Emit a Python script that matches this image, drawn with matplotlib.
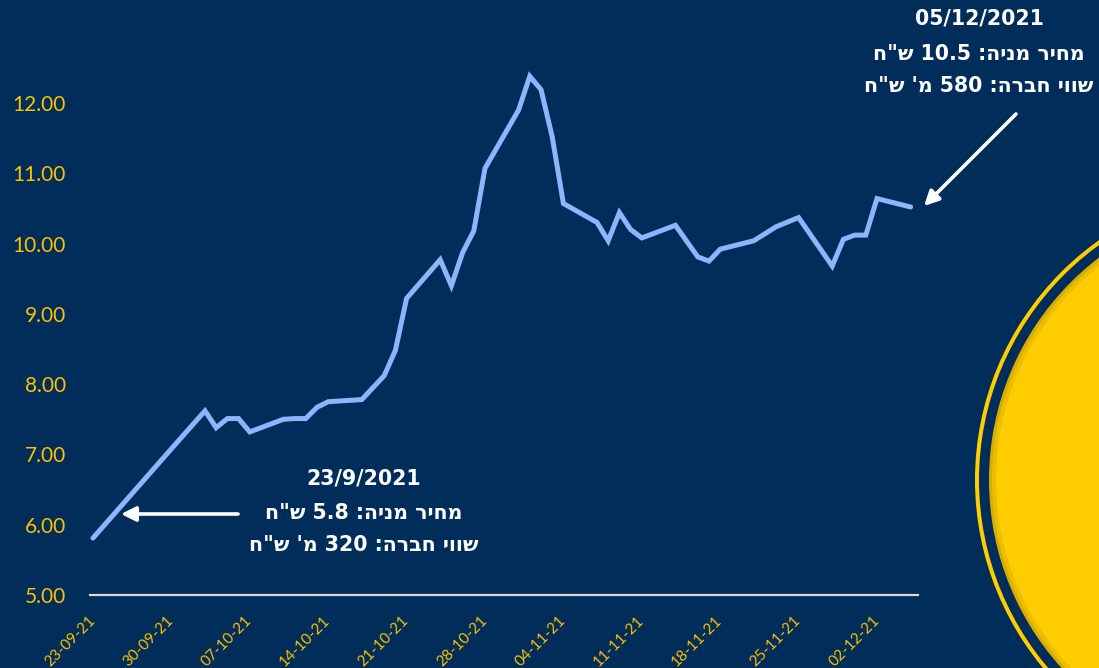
import matplotlib
matplotlib.use('Agg')
import matplotlib.pyplot as plt
import matplotlib.dates as mdates
from matplotlib.patches import Circle
import pandas as pd

# ---------------- data ----------------
dates = ['2021-09-23', '2021-09-30', '2021-10-03', '2021-10-04', '2021-10-05',
         '2021-10-06', '2021-10-07', '2021-10-10', '2021-10-11', '2021-10-12',
         '2021-10-13', '2021-10-14', '2021-10-17', '2021-10-18', '2021-10-19',
         '2021-10-20', '2021-10-21', '2021-10-24', '2021-10-25', '2021-10-26',
         '2021-10-27', '2021-10-28', '2021-10-31', '2021-11-01', '2021-11-02',
         '2021-11-03', '2021-11-04', '2021-11-07', '2021-11-08', '2021-11-09',
         '2021-11-10', '2021-11-11', '2021-11-14', '2021-11-16', '2021-11-17',
         '2021-11-18', '2021-11-21', '2021-11-23', '2021-11-25', '2021-11-28',
         '2021-11-29', '2021-11-30', '2021-12-01', '2021-12-02', '2021-12-05']
prices = [5.81, 7.08, 7.62, 7.38, 7.51,
          7.51, 7.32, 7.50, 7.51, 7.51,
          7.67, 7.75, 7.78, 7.95, 8.12,
          8.48, 9.22, 9.77, 9.40, 9.87,
          10.18, 11.07, 11.90, 12.38, 12.19,
          11.52, 10.57, 10.30, 10.04, 10.44,
          10.20, 10.08, 10.26, 9.81, 9.75,
          9.92, 10.04, 10.24, 10.37, 9.68,
          10.06, 10.12, 10.12, 10.64, 10.52]

tick_dates = ['2021-09-23', '2021-09-30', '2021-10-07', '2021-10-14', '2021-10-21',
              '2021-10-28', '2021-11-04', '2021-11-11', '2021-11-18', '2021-11-25',
              '2021-12-02']
y_ticks = [5, 6, 7, 8, 9, 10, 11, 12]

start_note = ['23/9/2021', 'מחיר מניה: 5.8 ש"ח', 'שווי חברה: 320 מ\' ש"ח']
end_note = ['05/12/2021', 'מחיר מניה: 10.5 ש"ח', 'שווי חברה: 580 מ\' ש"ח']


def visual(s):
    """Convert logical-order Hebrew line to visual (LTR display) order."""
    toks = s.split(' ')
    out = []
    for t in reversed(toks):
        if any('\u0590' <= c <= '\u05FF' for c in t):
            out.append(t[::-1])
        else:
            out.append(t)
    return ' '.join(out)


# ---------------- style ----------------
BG = '#002D5A'
LINE = '#8EB4FA'
GOLD = '#FFC000'
YEL = '#FFCC00'

W, H = 1099, 668
fig = plt.figure(figsize=(W / 100, H / 100), dpi=100, facecolor=BG)

# background / decoration layer in pixel coordinates
bg = fig.add_axes([0, 0, 1, 1], zorder=0)
bg.set_xlim(0, W)
bg.set_ylim(H, 0)
bg.axis('off')
bg.set_facecolor(BG)

cx, cy = 1269, 480
bg.add_patch(Circle((cx, cy), 292, fill=False, ec=YEL, lw=2.9))
bg.add_patch(Circle((cx, cy), 280, fc='#D9AC00', ec='none'))
bg.add_patch(Circle((cx, cy), 277, fc='#EDBD00', ec='none'))
bg.add_patch(Circle((cx, cy), 273, fc=YEL, ec='none'))

# ---------------- main chart ----------------
ax = fig.add_axes([89.5 / W, 1 - 595 / H, (918 - 89.5) / W, (595 - 60.8) / H],
                  zorder=2)
ax.patch.set_alpha(0)

x = pd.to_datetime(dates)
ax.plot(x, prices, color=LINE, lw=3.6, solid_joinstyle='miter',
        solid_capstyle='round')

x0 = mdates.date2num(pd.Timestamp('2021-09-23'))
ax.set_xlim(x0 - 0.31, x0 + 73.66)
ax.set_ylim(5, 12.6)

ax.set_yticks(y_ticks)
ax.set_yticklabels([f'{v:.2f}' for v in y_ticks], color=GOLD, fontsize=15,
                   family='Lato')
td = pd.to_datetime(tick_dates)
ax.set_xticks(td)
ax.set_xticklabels([d.strftime('%d-%m-%y') for d in td], color=GOLD,
                   fontsize=11, family='Lato', rotation=45, ha='right',
                   va='center', rotation_mode='anchor')
ax.tick_params(axis='y', length=0, pad=17)
ax.tick_params(axis='x', length=0, pad=17)

for s in ['top', 'right', 'left']:
    ax.spines[s].set_visible(False)
ax.spines['bottom'].set_color('#D9D9D9')
ax.spines['bottom'].set_linewidth(1.6)

# ---------------- annotations ----------------
for yy, t in zip([478, 513, 545], start_note):
    bg.text(364, yy, visual(t), ha='center', va='center', color='white',
            fontsize=14.8, fontweight='bold', family=['DejaVu Sans'], zorder=5)
for yy, t in zip([19, 54, 86], end_note):
    bg.text(979, yy, visual(t), ha='center', va='center', color='white',
            fontsize=14.8, fontweight='bold', family=['DejaVu Sans'], zorder=5)

bg.annotate('', xy=(121, 514), xytext=(238, 514),
            arrowprops=dict(arrowstyle='-|>', color='white', lw=2.6,
                            mutation_scale=22, shrinkA=0, shrinkB=0))
bg.annotate('', xy=(924, 206), xytext=(1016, 114),
            arrowprops=dict(arrowstyle='-|>', color='white', lw=2.6,
                            mutation_scale=22, shrinkA=0, shrinkB=0))

fig.savefig('out.png', dpi=100, facecolor=BG)
